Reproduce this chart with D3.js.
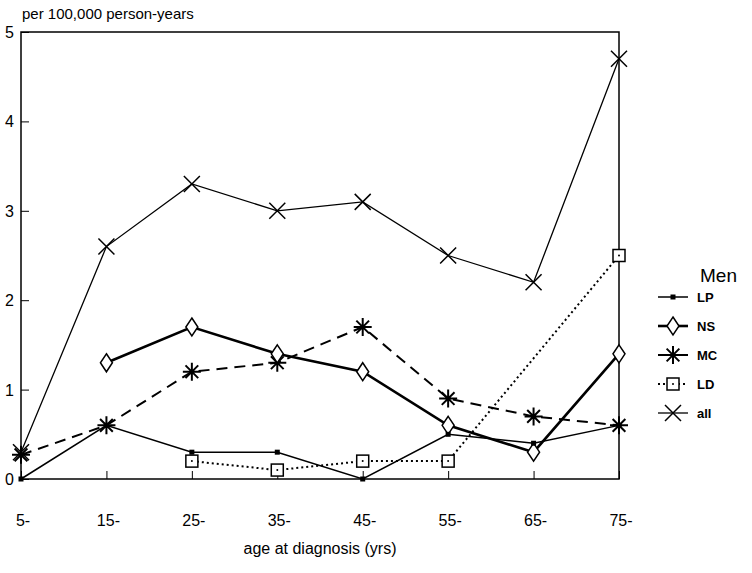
<!DOCTYPE html>
<html>
<head>
<meta charset="utf-8">
<script src="https://cdn.jsdelivr.net/npm/d3@7"></script>
<style>
body{margin:0;background:#fff;}
text{font-family:"Liberation Sans",Arial,sans-serif;fill:#000;}
</style>
</head>
<body>
<script>
var ages = ["5-","15-","25-","35-","45-","55-","65-","75-"];
var yTicks = [0,1,2,3,4,5];
var LP = [0,0.6,0.3,0.3,0,0.5,0.4,0.6];
var NS = [null,1.3,1.7,1.4,1.2,0.6,0.3,1.4];
var MC = [0.27,0.6,1.2,1.3,1.7,0.9,0.7,0.6];
var LD = [null,null,0.2,0.1,0.2,0.2,null,2.5];
var ALL = [0.3,2.6,3.3,3.0,3.1,2.5,2.2,4.7];
var seriesNames = ["LP","NS","MC","LD","all"];

var svg = d3.select("body").append("svg")
	.attr("width",752)
	.attr("height",573);

var x = d3.scalePoint().domain(ages).range([21,619]);
var y = d3.scaleLinear().domain([0,5]).range([479,32]);

var g = svg.append("g");

// frame
g.append("rect").attr("x",21).attr("y",32).attr("width",598).attr("height",447)
	.attr("fill","none").attr("stroke","#000").attr("stroke-width",1.5);

// x axis ticks (inward)
var xAxis = d3.axisTop(x).tickSize(8).tickFormat("");
g.append("g").attr("transform","translate(0,479)").call(xAxis)
	.call(function(s){s.select(".domain").remove();});
g.selectAll(".xl").data(ages).enter().append("text")
	.attr("x",function(d){return x(d)+2;})
	.attr("y",526)
	.attr("text-anchor","middle")
	.attr("font-size",16)
	.text(function(d){return d;});

var yAxis = d3.axisRight(y).tickValues(yTicks).tickSize(8).tickFormat("");
g.append("g").attr("transform","translate(21,0)").call(yAxis)
	.call(function(s){s.select(".domain").remove();});
g.selectAll(".yl").data(yTicks).enter().append("text")
	.attr("x",14)
	.attr("y",function(d){return y(d)+6;})
	.attr("text-anchor","end")
	.attr("font-size",16)
	.text(function(d){return d;});

svg.append("text").attr("x",22).attr("y",19).attr("font-size",15).text("per 100,000 person-years");
svg.append("text").attr("x",320).attr("y",554).attr("text-anchor","middle").attr("font-size",16).text("age at diagnosis (yrs)");

// markers
function marker(sel,type){
	if(type=="LP"){
		sel.append("rect").attr("x",-2.5).attr("y",-2.5).attr("width",5).attr("height",5).attr("fill","#000");
	} else if(type=="NS"){
		sel.append("path").attr("d","M0,-9L6,0L0,9L-6,0Z").attr("fill","#fff").attr("stroke","#000").attr("stroke-width",1.5);
	} else if(type=="MC"){
		var p="";
		for(var k=0;k<4;k++){
			var a=k*Math.PI/4;
			p+="M"+(-9*Math.cos(a))+","+(-9*Math.sin(a))+"L"+(9*Math.cos(a))+","+(9*Math.sin(a));
		}
		sel.append("path").attr("d",p).attr("stroke","#000").attr("stroke-width",2);
	} else if(type=="LD"){
		sel.append("rect").attr("x",-6).attr("y",-6).attr("width",12).attr("height",12).attr("fill","#fff").attr("stroke","#000").attr("stroke-width",1.5);
		sel.append("circle").attr("r",1).attr("fill","#000");
	} else {
		sel.append("path").attr("d","M-8,-8L8,8M-8,8L8,-8").attr("stroke","#000").attr("stroke-width",1.5);
	}
}

var styles = {
	LP:{w:1.5,dash:null},
	NS:{w:2.6,dash:null},
	MC:{w:2,dash:"11,7"},
	LD:{w:2,dash:"2,3"},
	all:{w:1.3,dash:null}
};
var dataMap = {LP:LP,NS:NS,MC:MC,LD:LD,all:ALL};

var line = d3.line().x(function(d){return x(d.a);}).y(function(d){return y(d.v);});

["all","LD","MC","NS","LP"].forEach(function(name){
	var pts = dataMap[name].map(function(v,i){return {a:ages[i],v:v};}).filter(function(d){return d.v!=null;});
	g.append("path").datum(pts).attr("d",line)
		.attr("fill","none").attr("stroke","#000")
		.attr("stroke-width",styles[name].w)
		.attr("stroke-dasharray",styles[name].dash);
	g.selectAll(".m"+name).data(pts).enter().append("g")
		.attr("transform",function(d){return "translate("+x(d.a)+","+y(d.v)+")";})
		.each(function(){marker(d3.select(this),name);});
});

// legend
var leg = svg.append("g");
leg.append("text").attr("x",700).attr("y",282).attr("font-size",19).text("Men");
var item = leg.selectAll(".li").data(seriesNames).enter().append("g")
	.attr("transform",function(d,i){return "translate(673,"+(297+i*29)+")";});
item.append("line").attr("x1",-15).attr("x2",15)
	.attr("stroke","#000")
	.attr("stroke-width",function(d){return styles[d].w;})
	.attr("stroke-dasharray",function(d){return styles[d].dash=="11,7"?null:styles[d].dash;});
item.each(function(d){marker(d3.select(this),d);});
item.append("text").attr("x",24).attr("y",5).attr("font-size",13).attr("font-weight","bold").text(function(d){return d;});
</script>
</body>
</html>
